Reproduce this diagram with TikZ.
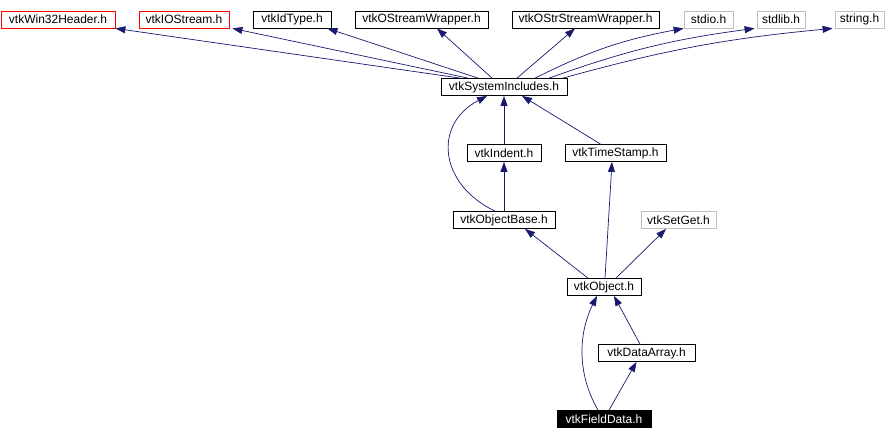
\documentclass[tikz,border=0pt]{standalone}
\usepackage{fontspec}
\setmainfont{Liberation Sans}
\usepackage{xcolor}
\usepackage{tikz}
\usetikzlibrary{positioning, arrows.meta}

\definecolor{edgeblue}{RGB}{25,25,112}
\definecolor{lightgrey}{RGB}{191,191,191}

\tikzset{
  hdr/.style={draw=black, line width=0.8pt, inner sep=0pt, minimum height=17pt, font=\fontsize{12}{14}\selectfont},
  redhdr/.style={hdr, draw=red},
  stdhdr/.style={hdr, draw=lightgrey},
  mainhdr/.style={hdr, fill=black, text=white},
  dep/.style={draw=edgeblue, line width=0.7pt, -{Triangle[length=10pt,width=7pt]}}
}

\begin{document}
\begin{tikzpicture}[x=1pt, y=-1pt]
        \fill[white] (0,0) rectangle (890,442);
        \useasboundingbox (0,0) rectangle (890,442);

        % Top row of headers
        \node[redhdr, minimum width=114pt] (win) at (58,19.5) {vtkWin32Header.h};
        \node[redhdr, minimum width=90pt] (ios) at (184,19.5) {vtkIOStream.h};
        \node[hdr, minimum width=78pt] (idt) at (292,19.5) {vtkIdType.h};
        \node[hdr, minimum width=133pt] (osw) at (421.5,19.5) {vtkOStreamWrapper.h};
        \node[hdr, minimum width=147pt] (ostr) at (585.5,19.5) {vtkOStrStreamWrapper.h};
        \node[stdhdr, minimum width=49pt] (stdio) at (708.5,19.5) {stdio.h};
        \node[stdhdr, minimum width=48pt] (stdlib) at (781,19.5) {stdlib.h};
        \node[stdhdr, minimum width=49pt] (string) at (859.5,19.5) {string.h};

        % System includes
        \node[hdr, minimum width=126pt] (sys) at (504,87) {vtkSystemIncludes.h};

        % Middle layers
        \node[hdr, minimum width=74pt] (ind) at (504,153) {vtkIndent.h};
        \node[hdr, minimum width=101pt] (ts) at (615.5,153) {vtkTimeStamp.h};
        \node[hdr, minimum width=102pt] (ob) at (504,220) {vtkObjectBase.h};
        \node[stdhdr, minimum width=75pt] (sg) at (678.5,220) {vtkSetGet.h};
        \node[hdr, minimum width=74pt] (obj) at (604,287) {vtkObject.h};
        \node[hdr, minimum width=97pt] (da) at (646.5,353) {vtkDataArray.h};

        % The file itself
        \node[mainhdr, minimum width=94pt] (fd) at (604,419) {vtkFieldData.h};

        % Edges into the top row
        \draw[dep] ([xshift=-44pt]sys.north) -- (win.south east);
        \draw[dep] ([xshift=-36pt]sys.north) -- ([xshift=3pt]ios.south east);
        \draw[dep] ([xshift=-26pt]sys.north) -- ([xshift=-4pt]idt.south east);
        \draw[dep] ([xshift=-12pt]sys.north) -- ([xshift=15.5pt]osw.south);
        \draw[dep] ([xshift=13pt]sys.north) -- ([xshift=-10.5pt]ostr.south);
        \draw[dep] ([xshift=31pt]sys.north) to[bend left=8] (stdio.south west);
        \draw[dep] ([xshift=45pt]sys.north) to[bend left=6] ([xshift=-2pt]stdlib.south west);
        \draw[dep] ([xshift=59pt]sys.north) to[bend left=5] ([xshift=-2pt]string.south west);

        % Edges into vtkSystemIncludes.h
        \draw[dep] (ind.north) -- (sys.south);
        \draw[dep] ([xshift=-15pt]ts.north) -- ([xshift=18pt]sys.south);
        \draw[dep] ([xshift=-9pt]ob.north) .. controls (440,185) and (432,125) .. ([xshift=-17pt]sys.south);

        % Edges of the lower part
        \draw[dep] (ob.north) -- (ind.south);
        \draw[dep] ([xshift=-16pt]obj.north) -- ([xshift=21pt]ob.south);
        \draw[dep] ([xshift=1pt]obj.north) -- ([xshift=-3.5pt]ts.south);
        \draw[dep] ([xshift=12pt]obj.north) -- ([xshift=-12.5pt]sg.south);
        \draw[dep] ([xshift=-6pt]fd.north) .. controls (575,370) and (580,330) .. ([xshift=-7pt]obj.south);
        \draw[dep] ([xshift=-6.5pt]da.north) -- ([xshift=10pt]obj.south);
        \draw[dep] ([xshift=5pt]fd.north) -- ([xshift=-10pt]da.south);
      \end{tikzpicture}
\end{document}
